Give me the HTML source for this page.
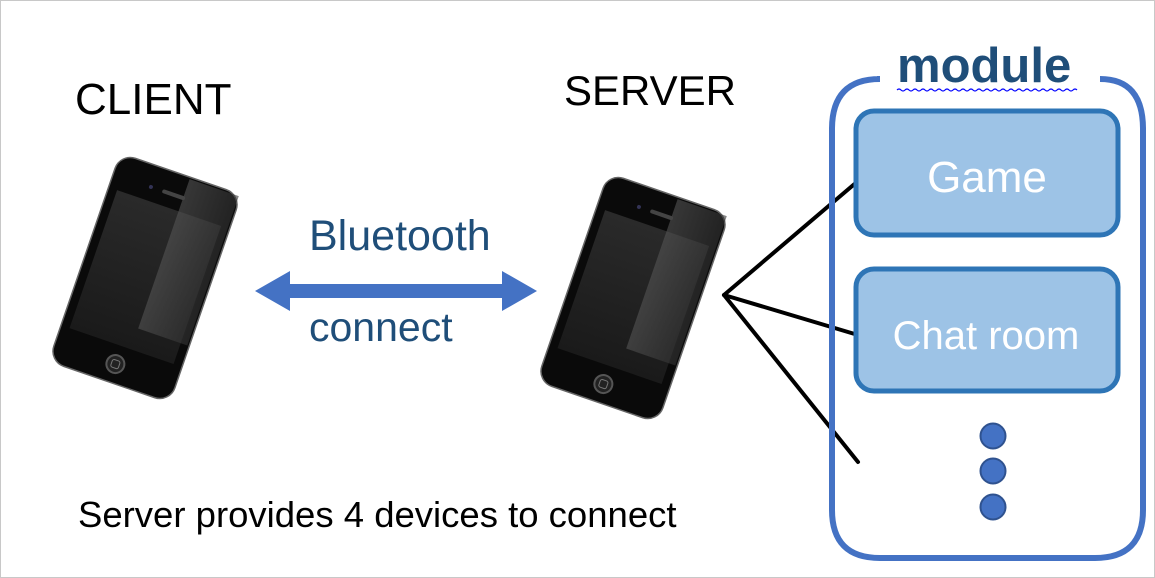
<!DOCTYPE html>
<html><head><meta charset="utf-8"><style>
html,body{margin:0;padding:0;background:#fff;}
svg{display:block;}
text{font-family:"Liberation Sans","DejaVu Sans",sans-serif;}
</style></head><body>
<svg width="1155" height="578" viewBox="0 0 1155 578" xmlns="http://www.w3.org/2000/svg">
<defs>
<linearGradient id="scr" x1="0" y1="0" x2="0" y2="1">
<stop offset="0" stop-color="#2a2a2a"/><stop offset="1" stop-color="#1a1a1a"/>
</linearGradient>
<linearGradient id="gl" x1="0" y1="0" x2="1" y2="0">
<stop offset="0" stop-color="#555"/><stop offset="1" stop-color="#333"/>
</linearGradient>
<g id="phone">
<rect x="-64" y="-110" width="128" height="220" rx="16" fill="#0a0a0a" stroke="#666" stroke-width="1.5"/>
<rect x="-55" y="-74" width="110" height="146" fill="url(#scr)"/>
<polygon points="10,-108 62,-108 62,50 10,50" fill="url(#gl)" opacity="0.6"/>
<rect x="-12" y="-90" width="24" height="4" rx="2" fill="#444"/>
<circle cx="-24" cy="-88" r="2" fill="#335"/>
<circle cx="0" cy="91" r="9" fill="#222" stroke="#555" stroke-width="2"/>
<rect x="-4" y="87" width="8" height="8" rx="2" fill="none" stroke="#777" stroke-width="1"/>
</g>
</defs>
<rect x="0.5" y="0.5" width="1154" height="577" fill="#fff" stroke="#c8c8c8"/>

<text x="75" y="114" font-size="44" fill="#000">CLIENT</text>
<text x="564" y="105" font-size="42" fill="#000">SERVER</text>

<use href="#phone" transform="translate(145,278) rotate(19)"/>
<use href="#phone" transform="translate(633,298) rotate(19)"/>

<polygon points="255,291 290,271 290,284 502,284 502,271 537,291 502,311 502,298 290,298 290,311" fill="#4472c4"/>
<text x="309" y="250" font-size="43" fill="#1f4e79">Bluetooth</text>
<text x="309" y="341" font-size="41" fill="#1f4e79">connect</text>

<g stroke="#000" stroke-width="4" stroke-linecap="round">
<line x1="724" y1="295" x2="858" y2="181"/>
<line x1="724" y1="295" x2="858" y2="335"/>
<line x1="724" y1="295" x2="858" y2="462"/>
</g>

<path d="M877,79 L880,79 Q832,79 832,129 L832,510 Q832,558 880,558 L1095,558 Q1143,558 1143,510 L1143,129 Q1143,79 1100,79" fill="none" stroke="#4472c4" stroke-width="6"/>
<text x="897" y="82" font-size="49" font-weight="bold" fill="#1f4e79">module</text>
<path d="M897,90 q2,-2 4,0 q2,2 4,0 q2,-2 4,0 q2,2 4,0 q2,-2 4,0 q2,2 4,0 q2,-2 4,0 q2,2 4,0 q2,-2 4,0 q2,2 4,0 q2,-2 4,0 q2,2 4,0 q2,-2 4,0 q2,2 4,0 q2,-2 4,0 q2,2 4,0 q2,-2 4,0 q2,2 4,0 q2,-2 4,0 q2,2 4,0 q2,-2 4,0 q2,2 4,0 q2,-2 4,0 q2,2 4,0 q2,-2 4,0 q2,2 4,0 q2,-2 4,0 q2,2 4,0 q2,-2 4,0 q2,2 4,0 q2,-2 4,0 q2,2 4,0 q2,-2 4,0 q2,2 4,0 q2,-2 4,0 q2,2 4,0 q2,-2 4,0 q2,2 4,0 q2,-2 4,0 q2,2 4,0 q2,-2 4,0 q2,2 4,0 q2,-2 4,0 q2,2 4,0 q2,-2 4,0" fill="none" stroke="#0000ff" stroke-width="1.2"/>

<rect x="856" y="111" width="262" height="124" rx="18" fill="#9dc3e6" stroke="#2e75b6" stroke-width="5"/>
<text x="987" y="192" font-size="44" fill="#fff" text-anchor="middle">Game</text>
<rect x="856" y="269" width="262" height="122" rx="18" fill="#9dc3e6" stroke="#2e75b6" stroke-width="5"/>
<text x="986" y="349" font-size="40" fill="#fff" text-anchor="middle">Chat room</text>

<g fill="#4472c4" stroke="#2f528f" stroke-width="2">
<circle cx="993" cy="436" r="12.5"/>
<circle cx="993" cy="471" r="12.5"/>
<circle cx="993" cy="507" r="12.5"/>
</g>

<text x="78" y="527" font-size="36.5" fill="#000">Server provides 4 devices to connect</text>
</svg>
</body></html>
